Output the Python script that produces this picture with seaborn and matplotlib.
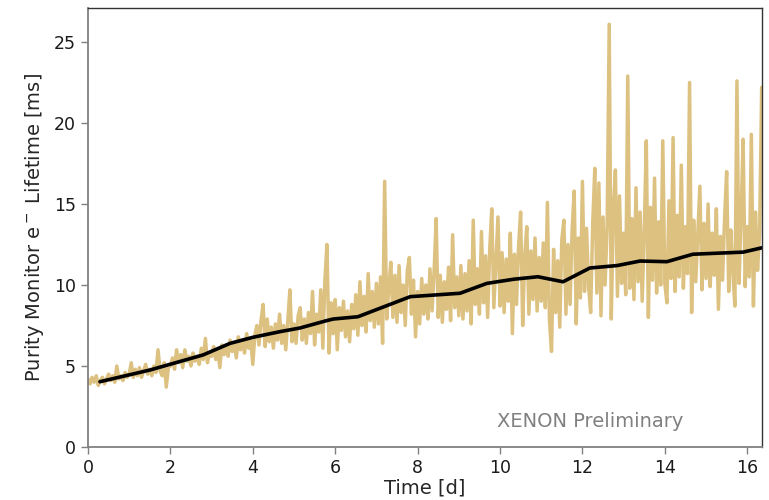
import numpy as np
import pandas as pd
import matplotlib
matplotlib.use("Agg")
import matplotlib.pyplot as plt
import seaborn as sns

# Lifetime readings from the purity monitor, 0.05 d apart, grouped by day
day_00 = [4.2, 3.9, 4.3, 4.0, 4.4, 3.8, 4.1, 4.3, 3.9, 4.2, 4.5, 4.1, 4.4, 4.0, 5.0, 4.2, 4.4, 4.1, 4.6, 4.3]
day_01 = [4.5, 5.2, 4.3, 4.8, 4.4, 4.9, 4.3, 4.7, 5.1, 4.5, 4.8, 4.4, 5.0, 4.6, 6.0, 4.7, 4.4, 5.2, 3.7, 4.9]
day_02 = [5.0, 5.5, 4.8, 6.0, 5.2, 5.7, 4.9, 6.0, 5.3, 5.6, 5.0, 5.8, 5.3, 5.6, 5.1, 6.1, 5.4, 6.7, 5.2, 5.8]
day_03 = [5.6, 6.2, 5.4, 6.0, 4.9, 6.3, 5.7, 6.2, 5.6, 6.6, 5.9, 6.4, 5.5, 6.8, 6.0, 6.5, 5.8, 7.0, 6.1, 6.6]
day_04 = [5.1, 6.9, 7.5, 6.3, 7.8, 8.8, 6.2, 7.9, 6.5, 7.4, 6.1, 7.6, 6.6, 8.2, 6.4, 7.5, 6.0, 7.8, 9.7, 6.5]
day_05 = [7.6, 6.4, 8.1, 8.6, 6.6, 7.9, 6.4, 8.3, 7.0, 9.6, 6.3, 8.2, 7.1, 9.7, 6.1, 10.3, 12.5, 5.8, 8.9, 7.0]
day_06 = [9.1, 6.0, 8.6, 7.2, 9.0, 6.8, 8.4, 6.5, 8.8, 7.3, 9.4, 6.9, 10.2, 7.5, 9.3, 7.1, 10.7, 7.8, 9.6, 7.4]
day_07 = [10.1, 7.6, 10.5, 6.4, 16.4, 7.9, 9.8, 11.4, 8.0, 10.6, 7.7, 11.2, 8.3, 10.0, 7.5, 10.9, 11.7, 8.2, 10.3, 6.8]
day_08 = [9.6, 7.6, 10.4, 8.2, 10.0, 7.9, 11.0, 8.4, 10.8, 14.1, 8.0, 10.6, 7.7, 10.2, 8.5, 11.1, 7.8, 13.1, 8.6, 10.5]
day_09 = [8.1, 11.2, 7.9, 10.7, 8.4, 11.5, 7.6, 14.0, 8.8, 11.0, 8.2, 13.3, 8.9, 11.8, 8.0, 12.2, 14.7, 8.6, 11.4, 14.2]
day_10 = [8.7, 12.0, 8.3, 11.6, 9.0, 13.2, 7.0, 11.9, 8.8, 12.4, 14.5, 7.5, 11.8, 13.6, 8.2, 12.1, 9.1, 12.9, 8.4, 11.7]
day_11 = [9.0, 12.6, 8.6, 15.1, 7.8, 5.9, 12.2, 8.3, 11.5, 7.4, 12.8, 14.0, 8.2, 12.5, 8.8, 13.4, 15.8, 7.6, 12.9, 9.2]
day_12 = [16.4, 9.6, 13.5, 9.9, 8.3, 13.8, 17.2, 9.5, 16.3, 8.1, 14.2, 10.0, 13.6, 26.1, 7.9, 14.6, 17.1, 9.3, 15.5, 10.1]
day_13 = [13.2, 9.4, 22.9, 9.8, 14.1, 9.1, 16.0, 10.2, 14.5, 9.0, 13.3, 18.9, 8.0, 14.8, 10.3, 16.6, 9.5, 13.9, 10.0, 18.9]
day_14 = [10.1, 8.9, 15.2, 10.4, 19.1, 9.6, 14.3, 10.5, 17.4, 9.8, 13.6, 10.7, 22.5, 8.3, 14.0, 10.2, 13.1, 16.1, 9.7, 13.8]
day_15 = [10.4, 15.0, 9.9, 13.2, 10.6, 14.7, 8.5, 13.0, 10.3, 14.1, 17.0, 9.6, 13.4, 10.8, 8.7, 22.6, 10.1, 14.2, 19.0, 9.9]
day_16 = [13.6, 10.5, 19.3, 8.7, 14.5, 10.9, 13.2, 22.2]
sample_step_d = 0.05

# Smoothed trend (black line)
trend_time_d = [0.29, 1.5, 2.79, 3.45, 4.0, 4.66, 5.15, 5.79, 5.95, 6.55, 7.82, 9.03, 9.68,
                10.34, 10.92, 11.53, 12.18, 12.84, 13.4, 14.05, 14.68, 15.9, 16.36]
trend_lifetime_ms = [4.03, 4.75, 5.68, 6.4, 6.77, 7.12, 7.35, 7.8, 7.9, 8.04, 9.28, 9.49, 10.1,
                     10.36, 10.51, 10.2, 11.05, 11.2, 11.48, 11.44, 11.9, 12.03, 12.3]

raw = (day_00 + day_01 + day_02 + day_03 + day_04 + day_05 + day_06 + day_07 + day_08
       + day_09 + day_10 + day_11 + day_12 + day_13 + day_14 + day_15 + day_16)
df = pd.DataFrame({'time': np.round(np.arange(len(raw)) * sample_step_d, 2), 'lifetime': raw})
df_trend = pd.DataFrame({'time': trend_time_d, 'lifetime': trend_lifetime_ms})

sns.set_style('white')
plt.rcParams['font.family'] = ['DejaVu Sans']

fig = plt.figure(figsize=(7.69, 5.0), dpi=100)
ax = fig.add_axes([0.1144, 0.106, 0.8766, 0.878])

sns.lineplot(data=df, x='time', y='lifetime', color='#dcc180', lw=2.5, ax=ax)
sns.lineplot(data=df_trend, x='time', y='lifetime', color='black', lw=2.6, ax=ax)

ax.set_xlim(0, 16.36)
ax.set_ylim(0, 27.1)
ax.set_xticks(range(0, 17, 2))
ax.set_yticks(range(0, 26, 5))
ax.set_xlabel('Time [d]', fontsize=14, labelpad=1)
ax.set_ylabel(r'Purity Monitor e$^-$ Lifetime [ms]', fontsize=14, labelpad=6)
ax.tick_params(axis='both', labelsize=12.5, direction='out', length=5, width=1,
               color='#808080', labelcolor='#1a1a1a', bottom=True, left=True)

for side in ['left', 'bottom']:
    ax.spines[side].set_color('#808080')
    ax.spines[side].set_linewidth(1.3)
for side in ['top', 'right']:
    ax.spines[side].set_color('#333333')
    ax.spines[side].set_linewidth(1.0)

ax.text(0.607, 0.057, 'XENON Preliminary', transform=ax.transAxes, fontsize=14,
        color='#808080', ha='left', va='center')

plt.savefig('out.png', dpi=100)
plt.close()
